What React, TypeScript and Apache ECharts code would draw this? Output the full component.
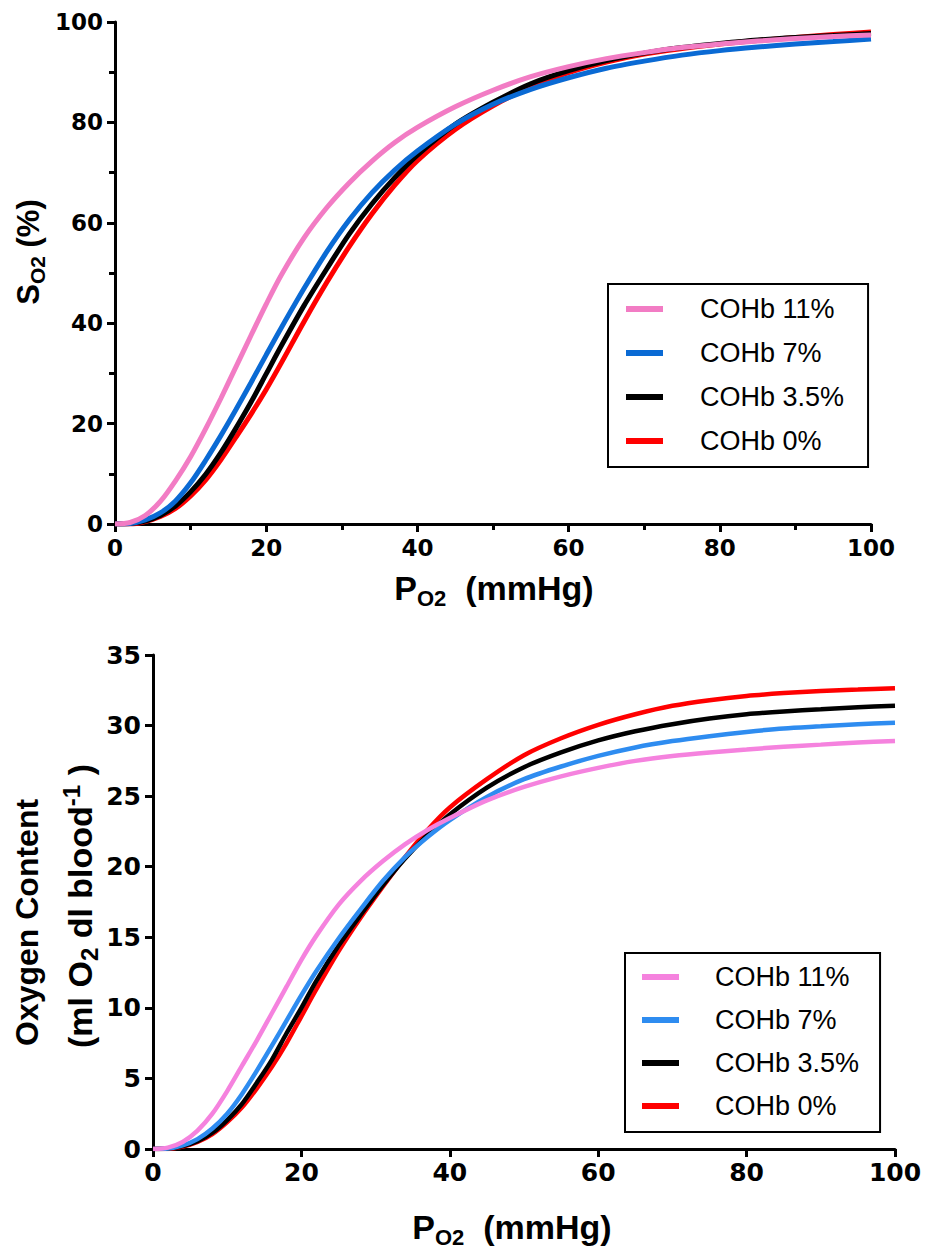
import React, { useEffect, useRef } from "react";
import * as echarts from "echarts";

// Partial pressure of O2 (mmHg) at which the curves were read
const PO2 = [0, 2, 4, 6, 8, 10, 12, 14, 16, 18, 20, 22, 25, 28, 31, 34, 37, 40, 45, 50, 55, 60, 65, 70, 75, 80, 85, 90, 95, 100];

// Top panel: O2 saturation (%)
const sat11 = [0, 0.3, 1.7, 4.5, 8.6, 13.4, 19.0, 25.0, 31.3, 37.6, 43.8, 49.6, 57.0, 63.0, 68.0, 72.3, 76.0, 79.0, 83.1, 86.4, 89.1, 91.1, 92.7, 93.9, 94.9, 95.6, 96.2, 96.7, 97.1, 97.4];
const sat7 = [0, 0.1, 0.8, 2.2, 4.6, 8.2, 12.7, 17.6, 22.8, 28.2, 33.7, 39.1, 46.9, 54.2, 60.6, 66.0, 70.5, 74.3, 79.6, 83.6, 86.6, 88.9, 90.8, 92.2, 93.4, 94.3, 95.0, 95.6, 96.1, 96.6];
const sat35 = [0, 0.1, 0.6, 1.7, 3.6, 6.4, 9.9, 14.2, 19.1, 24.3, 29.9, 35.5, 43.5, 50.8, 57.8, 63.8, 69.0, 73.5, 79.6, 84.0, 87.7, 90.3, 92.3, 93.8, 94.9, 95.7, 96.4, 96.9, 97.3, 97.7];
const sat0 = [0, 0, 0.5, 1.5, 3.1, 5.6, 8.8, 12.8, 17.3, 21.9, 26.8, 32.1, 40.3, 48.1, 55.3, 61.8, 67.5, 72.4, 78.6, 83.3, 87.1, 89.9, 92.0, 93.6, 94.7, 95.6, 96.3, 96.9, 97.5, 98.0];

// Bottom panel: oxygen content (ml O2 / dl blood)
const ct11 = [0, 0.1, 0.5, 1.3, 2.5, 4.1, 5.9, 7.7, 9.6, 11.5, 13.4, 15.1, 17.3, 19.0, 20.4, 21.6, 22.6, 23.45, 24.7, 25.65, 26.4, 27.0, 27.5, 27.85, 28.1, 28.3, 28.5, 28.65, 28.8, 28.9];
const ct7 = [0, 0.03, 0.25, 0.7, 1.45, 2.5, 3.9, 5.55, 7.3, 9.1, 10.9, 12.6, 14.9, 17.0, 19.0, 20.7, 22.1, 23.3, 24.95, 26.2, 27.1, 27.85, 28.45, 28.9, 29.25, 29.55, 29.8, 29.95, 30.1, 30.2];
const ct35 = [0, 0.03, 0.2, 0.55, 1.15, 2.05, 3.2, 4.7, 6.3, 8.2, 10.0, 11.9, 14.4, 16.6, 18.7, 20.6, 22.25, 23.7, 25.6, 27.05, 28.1, 28.95, 29.6, 30.1, 30.5, 30.8, 31.0, 31.15, 31.3, 31.4];
const ct0 = [0, 0, 0.17, 0.5, 1.05, 1.9, 2.95, 4.3, 5.8, 7.5, 9.4, 11.3, 14.0, 16.4, 18.6, 20.7, 22.6, 24.2, 26.2, 27.9, 29.1, 30.05, 30.8, 31.4, 31.8, 32.1, 32.3, 32.45, 32.55, 32.65];

const names = ["COHb 11%", "COHb 7%", "COHb 3.5%", "COHb 0%"];
const topColors = ["#F27CC4", "#0A6AD4", "#000000", "#FF0000"];
const botColors = ["#F582DE", "#2E8CF0", "#000000", "#FF0000"];

const TITLE_FONT = "'Liberation Sans', Arial, sans-serif";
const TICK_FONT = "'DejaVu Sans', sans-serif";

function pairs(ys: number[]) {
  return PO2.map((p, i) => [p, ys[i]]);
}

function axisBase(fontSize: number, margin: number) {
  return {
    axisLine: { show: true, onZero: false, lineStyle: { color: "#000", width: 3 } },
    axisTick: { show: true, inside: false, length: 8, lineStyle: { color: "#000", width: 3 } },
    axisLabel: {
      color: "#000",
      fontFamily: TICK_FONT,
      fontWeight: "bold",
      fontSize,
      margin,
    },
    splitLine: { show: false },
  };
}

const richMain = (size: number) => ({
  fontSize: size,
  fontFamily: TITLE_FONT,
  fontWeight: "bold",
  fill: "#000",
  color: "#000",
  lineHeight: size + 8,
  verticalAlign: "middle",
});
const richSub = (size: number) => ({
  fontSize: size,
  fontFamily: TITLE_FONT,
  fontWeight: "bold",
  fill: "#000",
  color: "#000",
  lineHeight: size,
  verticalAlign: "bottom",
});
const richSup = (size: number) => ({
  fontSize: size,
  fontFamily: TITLE_FONT,
  fontWeight: "bold",
  fill: "#000",
  color: "#000",
  lineHeight: size,
  verticalAlign: "top",
});

function titleText(
  text: string,
  x: number,
  y: number,
  rotation: number,
  align: string,
  main: number,
  small: number
) {
  return {
    type: "text",
    x,
    y,
    rotation,
    silent: true,
    style: {
      text,
      rich: { a: richMain(main), b: richSub(small), c: richSup(small) },
      fill: "#000",
      font: `bold ${main}px ${TITLE_FONT}`,
      align,
      textAlign: align,
      verticalAlign: "middle",
      textVerticalAlign: "middle",
    },
  };
}

function legendCfg(
  left: number,
  top: number,
  gap: number,
  padding: number[],
  textPadLeft: number,
  colors: string[]
) {
  return {
    show: true,
    orient: "vertical",
    left,
    top,
    icon: "rect",
    itemWidth: 37,
    itemHeight: 6,
    itemGap: gap,
    padding,
    borderColor: "#000",
    borderWidth: 2,
    backgroundColor: "#fff",
    selectedMode: false,
    data: names.map((n, i) => ({ name: n, itemStyle: { color: colors[i] } })),
    textStyle: {
      fontFamily: TITLE_FONT,
      fontSize: 27,
      color: "#000",
      lineHeight: 30,
      padding: [0, 0, 0, textPadLeft],
    },
  };
}

export default function App() {
  const ref = useRef<HTMLDivElement>(null);

  useEffect(() => {
    if (!ref.current) return;
    const chart = echarts.init(ref.current, null, { renderer: "svg" });

    const topSeries = [sat0, sat35, sat7, sat11];
    const botSeries = [ct0, ct35, ct7, ct11];
    const order = [3, 2, 1, 0]; // red, black, blue, pink (pink drawn last)

    const series: any[] = [];
    order.forEach((ni, k) => {
      series.push({
        type: "line",
        name: names[ni],
        xAxisIndex: 0,
        yAxisIndex: 0,
        data: pairs(topSeries[k]),
        smooth: 0.3,
        showSymbol: false,
        symbol: "none",
        lineStyle: { color: topColors[ni], width: 5 },
        itemStyle: { color: topColors[ni] },
        z: 2 + k,
      });
    });
    order.forEach((ni, k) => {
      series.push({
        type: "line",
        name: names[ni],
        xAxisIndex: 1,
        yAxisIndex: 1,
        data: pairs(botSeries[k]),
        smooth: 0.3,
        showSymbol: false,
        symbol: "none",
        lineStyle: { color: botColors[ni], width: 4.5 },
        itemStyle: { color: botColors[ni] },
        z: 2 + k,
      });
    });

    const option: any = {
      animation: false,
      backgroundColor: "#ffffff",
      textStyle: { fontFamily: TITLE_FONT },
      grid: [
        { left: 115, top: 22, width: 756, height: 502, containLabel: false },
        { left: 153, top: 655, width: 742, height: 494, containLabel: false },
      ],
      xAxis: [
        {
          type: "value",
          gridIndex: 0,
          min: 0,
          max: 100,
          interval: 20,
          ...axisBase(23, 12),
          minorTick: { show: true, splitNumber: 2, length: 6, lineStyle: { color: "#000", width: 3 } },
        },
        {
          type: "value",
          gridIndex: 1,
          min: 0,
          max: 100,
          interval: 20,
          ...axisBase(25, 11),
        },
      ],
      yAxis: [
        {
          type: "value",
          gridIndex: 0,
          min: 0,
          max: 100,
          interval: 20,
          ...axisBase(23, 12),
          minorTick: { show: true, splitNumber: 2, length: 6, lineStyle: { color: "#000", width: 3 } },
        },
        {
          type: "value",
          gridIndex: 1,
          min: 0,
          max: 35,
          interval: 5,
          ...axisBase(25, 12),
        },
      ],
      legend: [
        legendCfg(608, 284, 14, [10, 24, 11, 18], 32, topColors),
        legendCfg(625, 953, 13, [9, 21, 11, 17], 31, botColors),
      ],
      graphic: [
        titleText("{a|S}{b|O2}{a| (%)}", 28, 252, Math.PI / 2, "center", 31, 21),
        titleText("{a|P}{b|O2}{a|  (mmHg)}", 494, 588, 0, "center", 34, 22),
        titleText("{a|P}{b|O2}{a|  (mmHg)}", 512, 1227, 0, "center", 34, 22),
        titleText("{a|Oxygen Content}", 27, 1046, Math.PI / 2, "left", 32, 20),
        titleText("{a|(ml O}{b|2}{a| dl blood}{c|-1}{a| )}", 80, 1048, Math.PI / 2, "left", 34, 24),
      ],
      series,
    };

    chart.setOption(option);
    return () => chart.dispose();
  }, []);

  return (
    <div
      ref={ref}
      style={{ position: "fixed", left: 0, top: 0, width: 925, height: 1249, background: "#fff" }}
    />
  );
}
